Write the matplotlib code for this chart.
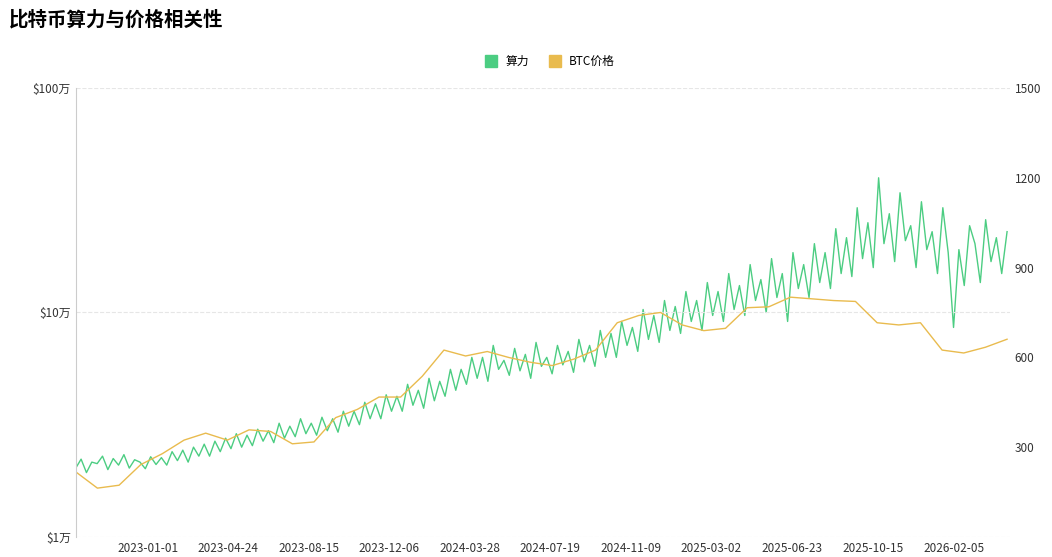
import matplotlib
matplotlib.use("Agg")
import matplotlib.pyplot as plt
import pandas as pd
from matplotlib.lines import Line2D

plt.rcParams['font.family'] = ['Noto Sans CJK SC', 'DejaVu Sans']

hash_vals = [230,260,215,250, 245,270,225,262, 240,275,230,258, 250,228,268,242,
 265,240,285,255, 290,250,300,270, 310,270,320,285, 330,295,345,300,
 340,305,360,320, 355,315,380,330, 370,335,395,345, 380,340,400,355,
 395,350,420,370, 420,375,450,395, 445,395,475,420, 470,420,510,440,
 490,430,530,455, 520,470,560,490, 560,510,600,530, 600,520,640,560,
 590,540,630,555, 610,530,650,570, 600,545,640,575, 620,550,660,585,
 640,570,690,600, 680,600,720,640, 700,620,760,660, 740,650,790,690,
 770,680,820,720, 790,690,850,740, 820,720,880,760, 840,740,910,790,
 860,750,930,800, 880,720,950,830, 910,800,980,850, 950,830,1030,880,
 1000,870,1100,930, 1050,900,1200,980, 1080,920,1150,990, 1040,900,1120,960,
 1020,880,1100,950, 700,960,840,1040, 980,850,1060,920, 1000,880,1020]
hash_dates = pd.date_range('2022-09-22', '2026-04-21', periods=len(hash_vals))

price_vals = [19500,16500,17000,21000,23500,27000,29000,27000,30000,29500,26000,26500,
 34000,37000,42000,42000,52000,68000,64000,67000,63000,60000,58000,62000,
 68000,90000,97000,100000,88000,83000,85000,105000,106000,117000,115000,113000,
 112000,90000,88000,90000,68000,66000,70000,76000]
price_dates = pd.date_range('2022-09-22', '2026-04-21', periods=len(price_vals))

tick_labels = ['2023-01-01','2023-04-24','2023-08-15','2023-12-06','2024-03-28','2024-07-19',
 '2024-11-09','2025-03-02','2025-06-23','2025-10-15','2026-02-05']

green = '#4ccd82'; yellow = '#e9bb4e'
fig = plt.figure(figsize=(10.52, 5.57), dpi=100)
ax = fig.add_axes([0.072, 0.036, 0.888, 0.806])
ax2 = ax.twinx()
ax.set_zorder(ax2.zorder + 1); ax.patch.set_visible(False)

ax2.plot(hash_dates, hash_vals, color=green, lw=1.0)
ax.plot(price_dates, price_vals, color=yellow, lw=1.0)

ax.set_yscale('log'); ax.set_ylim(1e4, 1e6)
ax.set_yticks([1e4, 1e5, 1e6]); ax.set_yticklabels(['$1万', '$10万', '$100万'])
ax.yaxis.set_minor_locator(matplotlib.ticker.NullLocator())
ax2.set_ylim(0, 1500); ax2.set_yticks([300, 600, 900, 1200, 1500])
ax.set_xlim(pd.Timestamp('2022-09-22'), pd.Timestamp('2026-04-25'))
ax.set_xticks(pd.to_datetime(tick_labels)); ax.set_xticklabels(tick_labels)
for a in (ax, ax2):
    a.tick_params(length=0, labelsize=8.5, colors='#333333')
    for s in a.spines.values(): s.set_visible(False)
ax.spines['left'].set_visible(True); ax.spines['left'].set_color('#cccccc')
ax.grid(axis='y', ls='--', color='#e6e6e6', lw=0.8)
ax2.grid(False)

fig.text(0.008, 0.965, '比特币算力与价格相关性', fontsize=14, fontweight='bold', va='center')
h = [Line2D([], [], marker='s', ls='', color=green, markersize=8),
     Line2D([], [], marker='s', ls='', color=yellow, markersize=8)]
fig.legend(h, ['算力', 'BTC价格'], loc='center', bbox_to_anchor=(0.52, 0.89), ncol=2,
           frameon=False, fontsize=8.5, handletextpad=0.2, columnspacing=1.2)
fig.savefig('out.png', dpi=100)
